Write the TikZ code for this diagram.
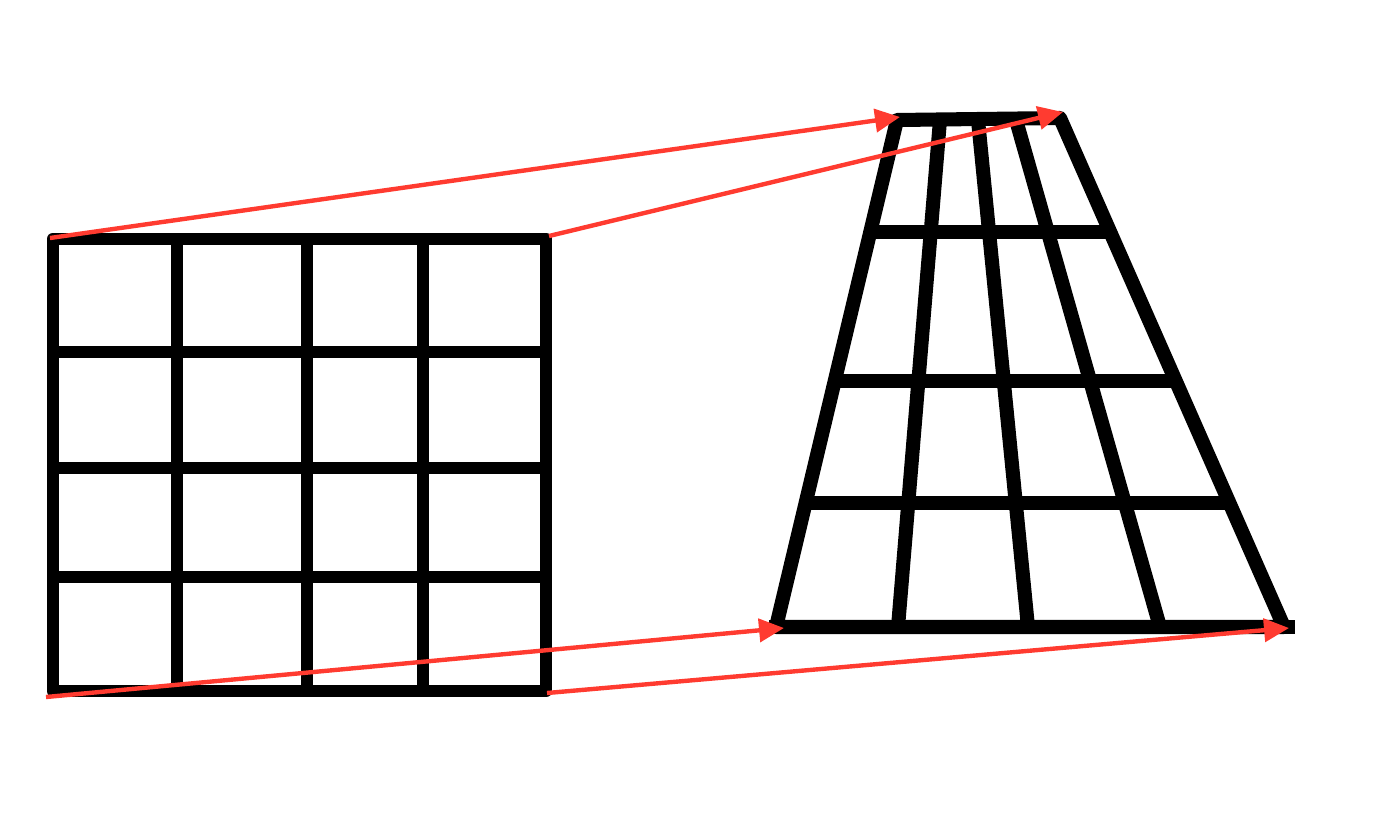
\documentclass[tikz,border=0pt]{standalone}
\usepackage{tikz}
\usetikzlibrary{arrows.meta,calc}
\definecolor{arrowred}{RGB}{255,59,48}
\tikzstyle{line}=[draw]
\tikzstyle{square}=[line width=7.2pt, line join=round]
\tikzstyle{trap}=[line width=8pt, line join=round]
\tikzstyle{arrow}=[draw=arrowred, line width=2.5pt, -{Triangle[length=0.5cm,width=0.46cm]}]

\begin{document}
\begin{tikzpicture}[x=0.02cm,y=-0.02cm]
\useasboundingbox (0,0) rectangle (1388,819);
% square grid
\coordinate (sqtl) at (53,239);
\coordinate (sqtr) at (546,239);
\coordinate (sqbl) at (53,691);
\coordinate (sqbr) at (546,691);
\draw[line,square] (sqtl)--(sqtr)--(sqbr)--(sqbl)--cycle;
\foreach \x in {177,307,423} \draw[line,square] (\x,239)--(\x,691);
\foreach \y in {352,468,577} \draw[line,square] (53,\y)--(546,\y);
% warped grid
\coordinate (trtl) at (897,120);
\coordinate (trtr) at (1060,118);
\coordinate (trbr) at (1284,627);
\coordinate (trbl) at (776,627);
\draw[line,trap] (trtl)--(trtr)--(trbr)--(trbl)--cycle;
\draw[line,trap,line cap=rect] (trbl)--(1288,627);
\draw[line,trap] (874,232)--(1108,232);
\draw[line,trap] (839,381)--(1173,381);
\draw[line,trap] (809,503)--(1225,503);
\draw[line,trap] (940,120)--(898,627);
\draw[line,trap] (978,120)--(1028,627);
\draw[line,trap] (1016,120)--(1160,627);
% arrows
\coordinate (s1) at (50,238);
\coordinate (s2) at (549,236);
\coordinate (s3) at (46,697);
\coordinate (s4) at (547,693);
\coordinate (e1) at (900,117);
\coordinate (e2) at (1063,112);
\coordinate (e3) at (784,628);
\coordinate (e4) at (1289,628);
\draw[arrow] (s1)--(e1);
\draw[arrow] (s2)--(e2);
\draw[arrow] (s3)--(e3);
\draw[arrow] (s4)--(e4);
\end{tikzpicture}
\end{document}
